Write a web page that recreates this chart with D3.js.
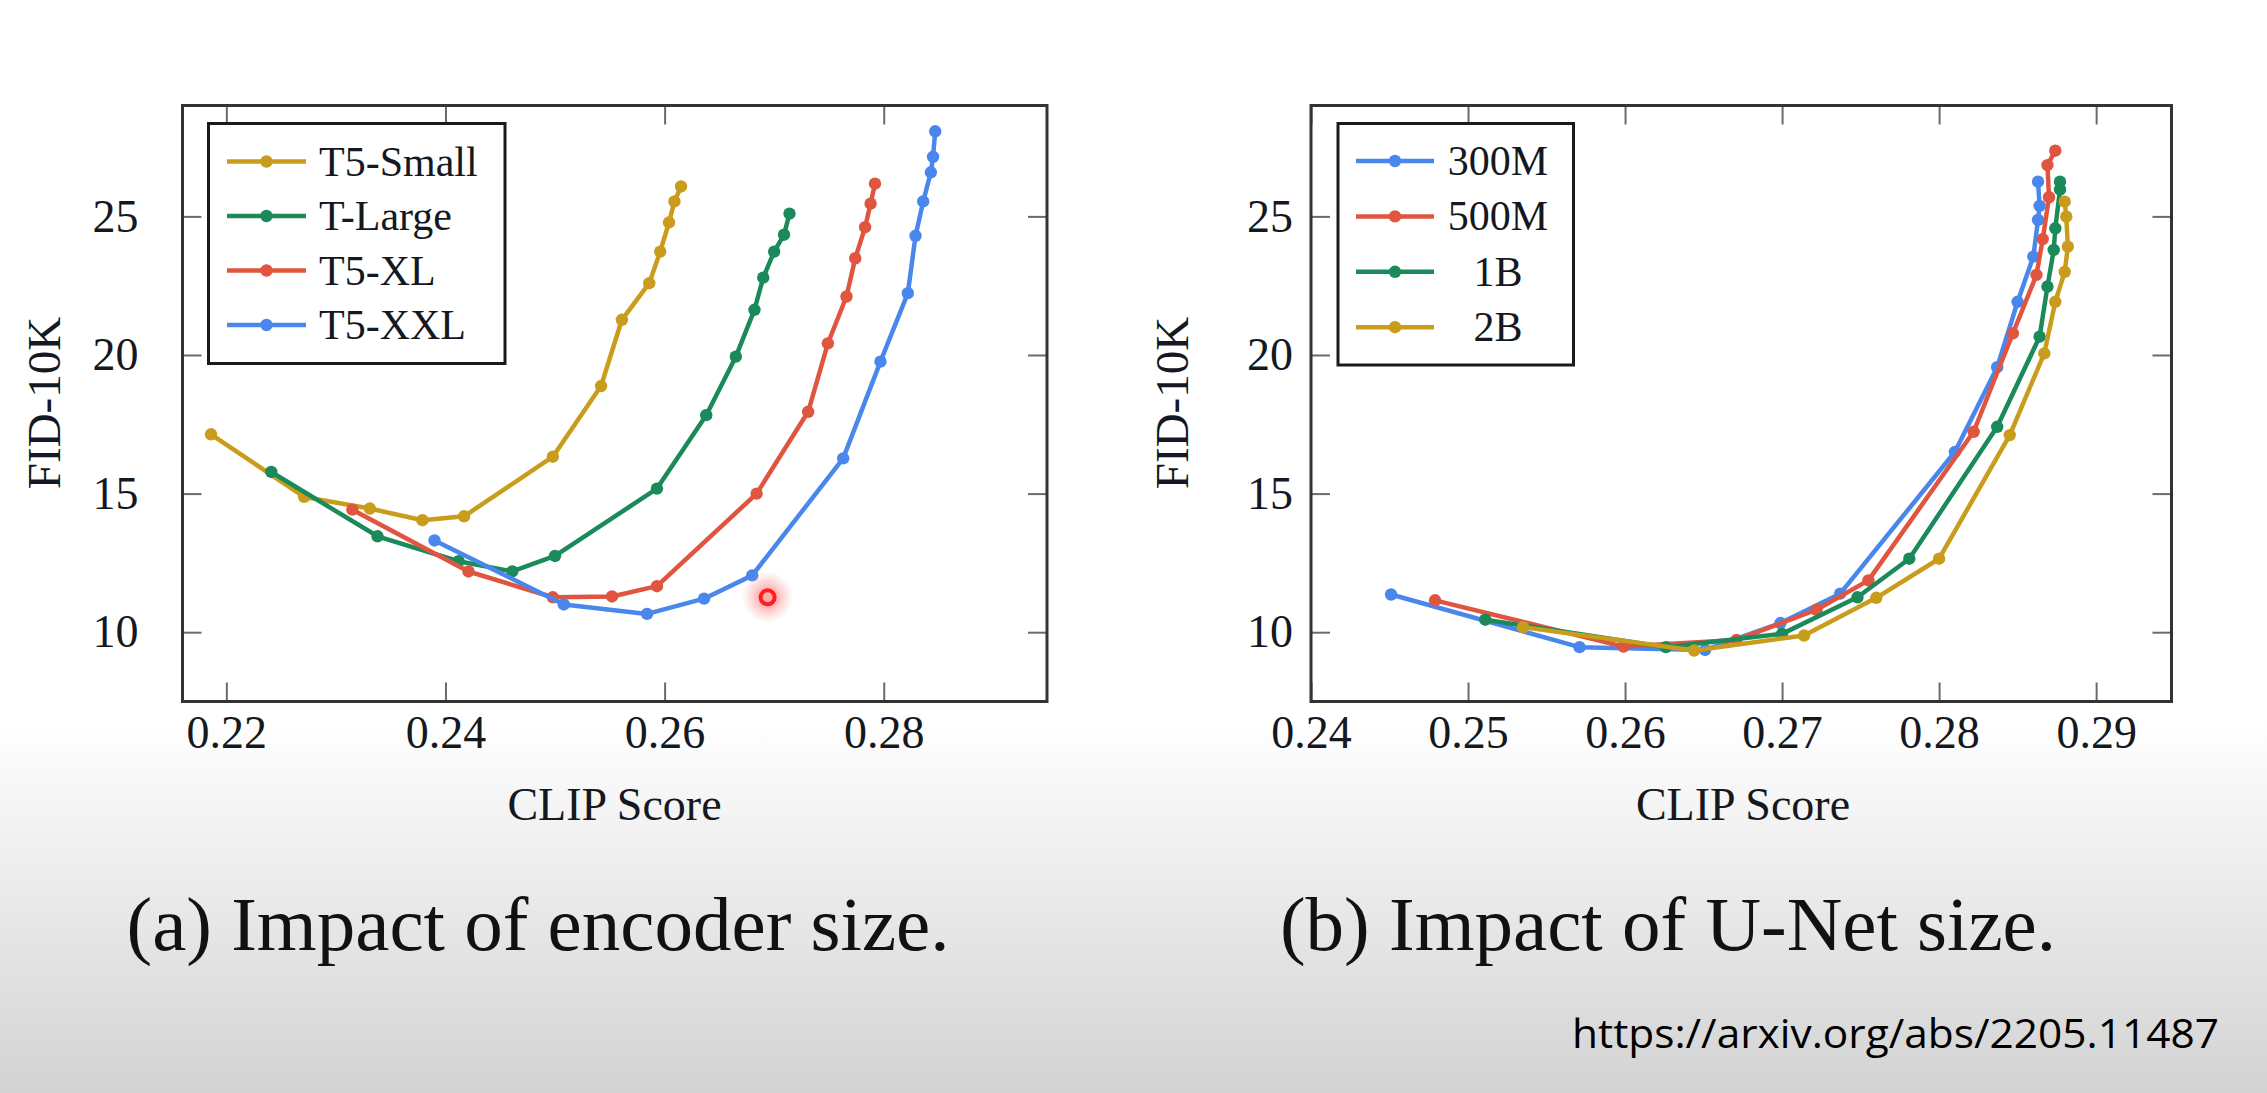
<!DOCTYPE html>
<html>
<head>
<meta charset="utf-8">
<script src="https://cdn.jsdelivr.net/npm/d3@7"></script>
<style>
  html, body { margin: 0; padding: 0; background: #fff; }
  svg { display: block; }
</style>
</head>
<body>
<svg id="chart" width="2267" height="1093"></svg>
<script>
// ---------------- DATA ----------------
// (a) Impact of encoder size : [CLIP Score, FID-10K]
const encoderSeries = ["T5-Small", "T-Large", "T5-XL", "T5-XXL"];
const t5Small = [[0.2186,17.14],[0.2271,14.88],[0.2331,14.46],[0.2379,14.04],[0.2417,14.18],[0.2498,16.33],[0.2542,18.88],[0.2561,21.27],[0.2586,22.59],[0.2596,23.73],[0.2604,24.78],[0.2609,25.54],[0.2615,26.08]];
const tLarge  = [[0.2241,15.78],[0.2338,13.46],[0.2412,12.56],[0.2461,12.19],[0.2500,12.75],[0.2593,15.18],[0.2638,17.83],[0.2665,19.94],[0.2682,21.63],[0.2690,22.79],[0.2700,23.73],[0.2709,24.34],[0.2714,25.10]];
const t5XL    = [[0.2315,14.42],[0.2421,12.19],[0.2498,11.26],[0.2552,11.29],[0.2593,11.66],[0.2684,15.00],[0.2731,17.95],[0.2749,20.42],[0.2766,22.11],[0.2774,23.49],[0.2783,24.61],[0.2788,25.46],[0.2792,26.18]];
const t5XXL   = [[0.2390,13.31],[0.2508,11.00],[0.2584,10.66],[0.2636,11.21],[0.2680,12.05],[0.2763,16.27],[0.2797,19.76],[0.2822,22.23],[0.2829,24.30],[0.2836,25.54],[0.2843,26.59],[0.2845,27.15],[0.2847,28.07]];

// (b) Impact of U-Net size : [CLIP Score, FID-10K]
const unetSeries = ["300M", "500M", "1B", "2B"];
const unet300M = [[0.2451,11.36],[0.2571,9.46],[0.2651,9.36],[0.2699,10.33],[0.2737,11.39],[0.2810,16.50],[0.2837,19.56],[0.2850,21.92],[0.2860,23.55],[0.2863,24.87],[0.2864,25.38],[0.2863,26.25]];
const unet500M = [[0.2479,11.15],[0.2599,9.48],[0.2671,9.72],[0.2722,10.81],[0.2755,11.87],[0.2822,17.23],[0.2847,20.78],[0.2862,22.89],[0.2866,24.18],[0.2870,25.69],[0.2869,26.85],[0.2874,27.37]];
const unet1B   = [[0.2511,10.45],[0.2626,9.46],[0.2700,9.94],[0.2748,11.26],[0.2781,12.65],[0.2837,17.41],[0.2864,20.66],[0.2869,22.47],[0.2873,23.79],[0.2874,24.57],[0.2877,25.97],[0.2877,26.25]];
const unet2B   = [[0.2535,10.18],[0.2644,9.34],[0.2714,9.88],[0.2760,11.24],[0.2800,12.65],[0.2845,17.11],[0.2867,20.06],[0.2874,21.92],[0.2880,23.00],[0.2882,23.91],[0.2881,24.99],[0.2880,25.53]];

// tick labels
const xTicksA = [0.22, 0.24, 0.26, 0.28];
const xTicksB = [0.24, 0.25, 0.26, 0.27, 0.28, 0.29];
const yTicks  = [10, 15, 20, 25];
const xLabel = "CLIP Score";
const yLabel = "FID-10K";
const titleA = "(a) Impact of encoder size.";
const titleB = "(b) Impact of U-Net size.";
const sourceText = "https://arxiv.org/abs/2205.11487";
// cursor highlight visible in the screenshot (in data units of panel a)
const cursorMark = [0.2694, 11.26];

// ---------------- STYLE ----------------
const GOLD = "#c99c1c", GREEN = "#1b8a5a", RED = "#e0553f", BLUE = "#4a87ec";
const SERIF = "'Liberation Serif', 'Times New Roman', serif";
const INK = "#141820";

const svg = d3.select("#chart");
const defs = svg.append("defs");
const bg = defs.append("linearGradient").attr("id", "bg").attr("x1", 0).attr("y1", 0).attr("x2", 0).attr("y2", 1);
bg.append("stop").attr("offset", "0.66").attr("stop-color", "#ffffff");
bg.append("stop").attr("offset", "0.78").attr("stop-color", "#efefef");
bg.append("stop").attr("offset", "1").attr("stop-color", "#d3d3d3");
svg.append("rect").attr("width", 2267).attr("height", 1093).attr("fill", "url(#bg)");

const glow = defs.append("radialGradient").attr("id", "glow");
glow.append("stop").attr("offset", "0.3").attr("stop-color", "#ff6a6a").attr("stop-opacity", 0.55);
glow.append("stop").attr("offset", "1").attr("stop-color", "#ff9a9a").attr("stop-opacity", 0);

function panel(cfg) {
  const x = d3.scaleLinear().domain(cfg.xDomain).range(cfg.xRange);
  const y = d3.scaleLinear().domain([7.5, 29]).range([701.5, 105.5]);
  const g = svg.append("g");
  const [x0, x1] = cfg.xRange, [y0, y1] = [105.5, 701.5];

  g.append("rect").attr("x", x0).attr("y", y0).attr("width", x1 - x0).attr("height", y1 - y0)
    .attr("fill", "#fff");

  const tickStyle = sel => { sel.select(".domain").remove();
    sel.selectAll(".tick line").attr("stroke", "#6a6a6a").attr("stroke-width", 2); };

  // bottom axis with labels
  const bx = g.append("g").attr("transform", `translate(0,${y1})`)
    .call(d3.axisBottom(x).tickValues(cfg.xTicks).tickSizeInner(-19).tickSizeOuter(0)
      .tickPadding(14).tickFormat(d3.format(".2f")));
  tickStyle(bx);
  bx.selectAll("text").attr("font-family", SERIF).attr("font-size", 46).attr("fill", INK).attr("dy", "0.71em");
  // top mirrored ticks
  const tx = g.append("g").attr("transform", `translate(0,${y0})`)
    .call(d3.axisTop(x).tickValues(cfg.xTicks).tickSizeInner(-19).tickSizeOuter(0).tickFormat(""));
  tickStyle(tx);
  // left axis with labels
  const ly = g.append("g").attr("transform", `translate(${x0},0)`)
    .call(d3.axisLeft(y).tickValues(yTicks).tickSizeInner(-19).tickSizeOuter(0)
      .tickPadding(cfg.yPad).tickFormat(d3.format("d")));
  tickStyle(ly);
  ly.selectAll("text").attr("font-family", SERIF).attr("font-size", 46).attr("fill", INK);
  // right mirrored ticks
  const ry = g.append("g").attr("transform", `translate(${x1},0)`)
    .call(d3.axisRight(y).tickValues(yTicks).tickSizeInner(-19).tickSizeOuter(0).tickFormat(""));
  tickStyle(ry);

  // frame
  g.append("rect").attr("x", x0).attr("y", y0).attr("width", x1 - x0).attr("height", y1 - y0)
    .attr("fill", "none").attr("stroke", "#333").attr("stroke-width", 3);

  // axis titles
  g.append("text").attr("x", cfg.xLabelX).attr("y", 820).attr("text-anchor", "middle")
    .attr("font-family", SERIF).attr("font-size", 46).attr("fill", INK).text(xLabel);
  g.append("text").attr("transform", `translate(${x0 - 139},403) rotate(-90)`)
    .attr("text-anchor", "middle").attr("dominant-baseline", "central")
    .attr("font-family", SERIF).attr("font-size", 47).attr("fill", INK).text(yLabel);

  // series
  const line = d3.line().x(d => x(d[0])).y(d => y(d[1]));
  const clip = "clip" + cfg.id;
  defs.append("clipPath").attr("id", clip).append("rect")
    .attr("x", x0).attr("y", y0).attr("width", x1 - x0).attr("height", y1 - y0);
  const plot = g.append("g").attr("clip-path", `url(#${clip})`);
  cfg.series.forEach(s => {
    plot.append("path").datum(s.data).attr("d", line).attr("fill", "none")
      .attr("stroke", s.color).attr("stroke-width", 4.5).attr("stroke-linejoin", "round");
    plot.selectAll(null).data(s.data).enter().append("circle")
      .attr("cx", d => x(d[0])).attr("cy", d => y(d[1])).attr("r", 6.2).attr("fill", s.color);
  });

  // legend
  const L = cfg.legend;
  g.append("rect").attr("x", L.x).attr("y", L.y).attr("width", L.w).attr("height", L.h)
    .attr("fill", "#fff").attr("stroke", "#1a1a1a").attr("stroke-width", 3);
  cfg.series.forEach((s, i) => {
    const yy = L.rowY0 + i * L.rowStep;
    g.append("line").attr("x1", L.lx0).attr("x2", L.lx1).attr("y1", yy).attr("y2", yy)
      .attr("stroke", s.color).attr("stroke-width", 4.5);
    g.append("circle").attr("cx", (L.lx0 + L.lx1) / 2).attr("cy", yy).attr("r", 6.2).attr("fill", s.color);
    g.append("text").attr("x", L.tx).attr("y", yy).attr("text-anchor", L.anchor)
      .attr("dominant-baseline", "central").attr("font-family", SERIF).attr("font-size", 42)
      .attr("fill", INK).text(s.name);
  });

  // caption
  svg.append("text").attr("x", cfg.titleX).attr("y", 950).attr("text-anchor", "middle")
    .attr("font-family", SERIF).attr("font-size", 77).attr("fill", "#111").text(cfg.title);

  return {x, y};
}

const A = panel({
  id: "A", xDomain: [0.216, 0.2949], xRange: [182.5, 1047], xTicks: xTicksA, yPad: 44,
  xLabelX: 614.5, title: titleA, titleX: 538,
  series: [
    {name: encoderSeries[0], data: t5Small, color: GOLD},
    {name: encoderSeries[1], data: tLarge, color: GREEN},
    {name: encoderSeries[2], data: t5XL, color: RED},
    {name: encoderSeries[3], data: t5XXL, color: BLUE}
  ],
  legend: {x: 208.5, y: 123.5, w: 296.5, h: 240, rowY0: 161.5, rowStep: 54.5,
           lx0: 227, lx1: 306, tx: 319, anchor: "start"}
});

panel({
  id: "B", xDomain: [0.24, 0.2948], xRange: [1311, 2171.5], xTicks: xTicksB, yPad: 18,
  xLabelX: 1743, title: titleB, titleX: 1668,
  series: [
    {name: unetSeries[0], data: unet300M, color: BLUE},
    {name: unetSeries[1], data: unet500M, color: RED},
    {name: unetSeries[2], data: unet1B, color: GREEN},
    {name: unetSeries[3], data: unet2B, color: GOLD}
  ],
  legend: {x: 1338, y: 123.5, w: 235.5, h: 241.5, rowY0: 161, rowStep: 55.4,
           lx0: 1356, lx1: 1434, tx: 1498, anchor: "middle"}
});

// cursor highlight (as in the screenshot)
svg.append("circle").attr("cx", A.x(cursorMark[0])).attr("cy", A.y(cursorMark[1])).attr("r", 26).attr("fill", "url(#glow)");
svg.append("circle").attr("cx", A.x(cursorMark[0])).attr("cy", A.y(cursorMark[1])).attr("r", 7)
  .attr("fill", "none").attr("stroke", "#ff1e1e").attr("stroke-width", 4);

// source url
svg.append("text").attr("x", 1572).attr("y", 1048).attr("font-family", "'Open Sans', 'Noto Sans', sans-serif")
  .attr("font-size", 41).attr("fill", "#000").attr("textLength", 647).attr("lengthAdjust", "spacingAndGlyphs")
  .text(sourceText);
</script>
</body>
</html>
